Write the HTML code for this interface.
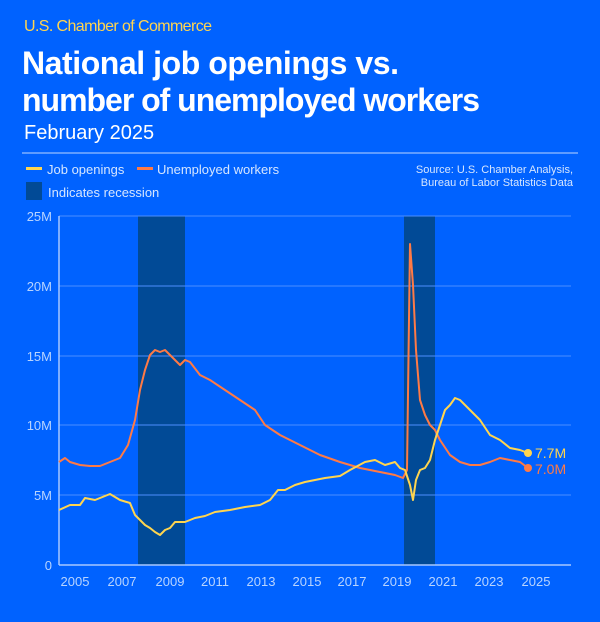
<!DOCTYPE html><html><head><style>
body{margin:0;width:600px;height:617px;background:#0062ff;font-family:"Liberation Sans",sans-serif;overflow:hidden}
</style></head><body>
<svg width="600" height="617" xmlns="http://www.w3.org/2000/svg" font-family="Liberation Sans, sans-serif">
<rect width="600" height="617" fill="#0062ff"/>
<text x="24" y="31" fill="#ffd54f" font-size="16" textLength="188">U.S. Chamber of Commerce</text>
<text x="22" y="74" fill="#fff" font-size="32" font-weight="bold" textLength="377">National job openings vs.</text>
<text x="22" y="111" fill="#fff" font-size="32" font-weight="bold" textLength="458">number of unemployed workers</text>
<text x="24" y="139" fill="#fff" font-size="20">February 2025</text>
<line x1="22" y1="153" x2="578" y2="153" stroke="#7fb0ff" stroke-width="1.5"/>
<rect x="26" y="167" width="16" height="3" fill="#ffd54f"/>
<text x="47" y="174" fill="#d6e6ff" font-size="13">Job openings</text>
<rect x="137" y="167" width="16" height="3" fill="#ff7a45"/>
<text x="157" y="174" fill="#d6e6ff" font-size="13">Unemployed workers</text>
<rect x="26" y="182" width="16" height="18" fill="#014a96"/>
<text x="48" y="197" fill="#d6e6ff" font-size="13">Indicates recession</text>
<text x="573" y="173" fill="#d6e6ff" font-size="11" text-anchor="end">Source: U.S. Chamber Analysis,</text>
<text x="573" y="186" fill="#d6e6ff" font-size="11" text-anchor="end">Bureau of Labor Statistics Data</text>
<rect x="138" y="216" width="47" height="349" fill="#014a96"/>
<rect x="404" y="216" width="31" height="349" fill="#014a96"/>
<g stroke="#4d8fff" stroke-width="1">
<line x1="59" y1="216" x2="571" y2="216"/><line x1="59" y1="286" x2="571" y2="286"/>
<line x1="59" y1="356" x2="571" y2="356"/><line x1="59" y1="425" x2="571" y2="425"/>
<line x1="59" y1="495" x2="571" y2="495"/></g>
<line x1="59" y1="216" x2="59" y2="565" stroke="#a8c8ff" stroke-width="1.5"/>
<line x1="59" y1="565" x2="571" y2="565" stroke="#a8c8ff" stroke-width="1.5"/>
<g fill="#b8d4ff" font-size="13" text-anchor="end">
<text x="52" y="221">25M</text><text x="52" y="291">20M</text><text x="52" y="361">15M</text>
<text x="52" y="430">10M</text><text x="52" y="500">5M</text><text x="52" y="570">0</text></g>
<g fill="#b8d4ff" font-size="13" text-anchor="middle">
<text x="75" y="586">2005</text><text x="122" y="586">2007</text><text x="170" y="586">2009</text>
<text x="215" y="586">2011</text><text x="261" y="586">2013</text><text x="307" y="586">2015</text>
<text x="352" y="586">2017</text><text x="397" y="586">2019</text><text x="443" y="586">2021</text>
<text x="489" y="586">2023</text><text x="536" y="586">2025</text></g>
<polyline fill="none" stroke="#ff7a45" stroke-width="2" stroke-linejoin="round" points="59,462 65,458 70,462 80,465 90,466 100,466 110,462 120,458 128,445 135,420 140,390 145,370 150,355 155,350 160,352 165,350 170,355 175,360 180,365 185,360 190,362 200,375 210,380 225,390 240,400 255,410 265,425 280,435 300,445 320,455 340,462 360,468 380,472 395,475 403,478 407,470 410,244 413,285 416,350 420,400 425,415 430,425 435,430 440,440 450,455 460,462 470,465 480,465 490,462 500,458 510,460 520,462 528,468"/>
<polyline fill="none" stroke="#ffd54f" stroke-width="2" stroke-linejoin="round" points="59,510 70,505 80,505 85,498 95,500 105,496 110,494 120,500 130,503 135,515 140,520 145,525 150,528 155,532 160,535 165,530 170,528 175,522 185,522 195,518 205,516 215,512 230,510 245,507 260,505 270,500 278,490 285,490 295,485 305,482 315,480 325,478 340,476 350,470 365,462 375,460 385,465 395,462 400,468 405,470 410,485 413,500 416,480 420,470 425,468 430,460 435,440 440,425 445,410 450,405 455,398 460,400 465,405 470,410 475,415 480,420 490,435 500,440 510,448 520,450 528,453"/>
<circle cx="528" cy="453" r="4" fill="#ffd54f"/><circle cx="528" cy="468" r="4" fill="#ff7a45"/>
<text x="535" y="458" fill="#ffd54f" font-size="14">7.7M</text>
<text x="535" y="474" fill="#ff7a45" font-size="14">7.0M</text>
</svg></body></html>
